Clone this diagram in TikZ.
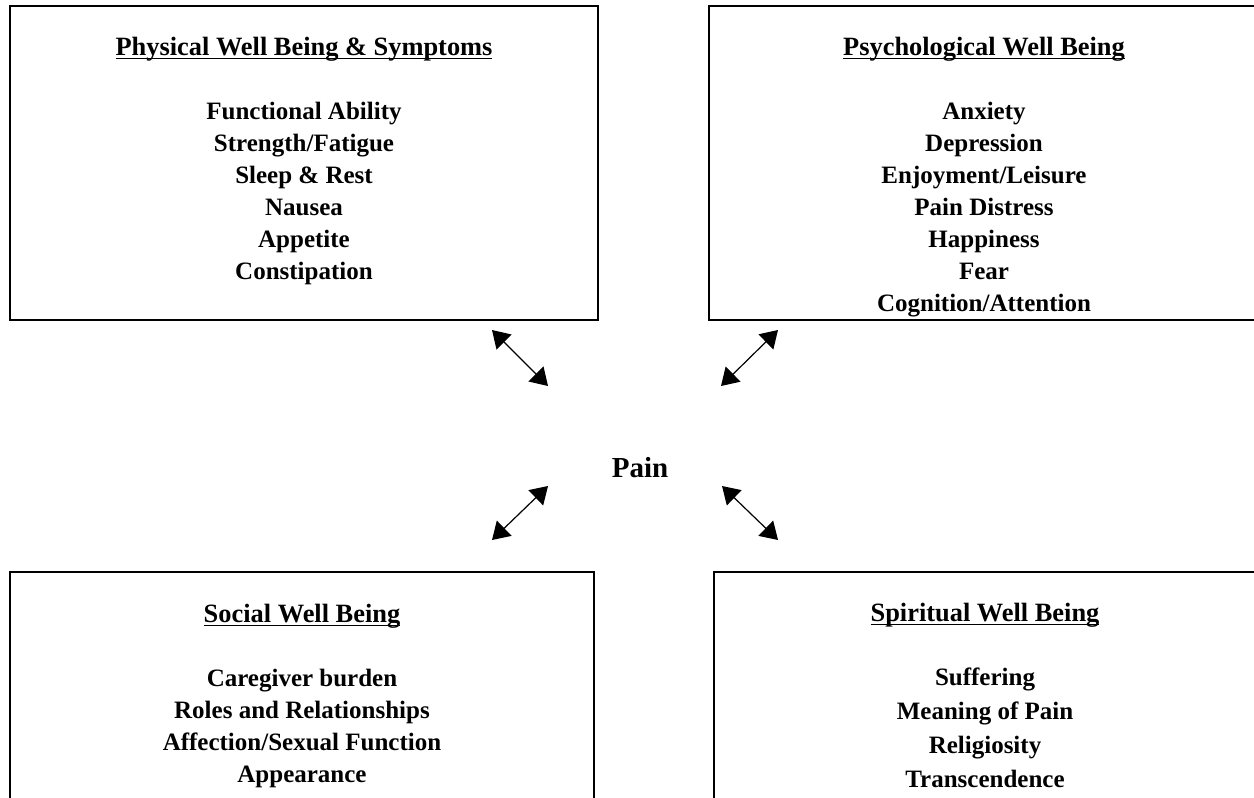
\documentclass[tikz,border=0pt]{standalone}
\usepackage{fontspec}
\setmainfont{Liberation Serif}
\usetikzlibrary{arrows.meta}
\newcommand{\hdLine}[1]{\setbox0\hbox{\fontsize{26.4}{32}\selectfont#1}\rlap{\rule[-4.2pt]{\wd0}{1.4pt}}\box0}
\newcommand{\areaBox}[6][]{
	\path (#2,#3) node[areabox, minimum width=#4pt, minimum height=#5pt, #1](#6){};
}
% y is the baseline of the last line
\newcommand{\areaText}[5][]{
	\path (#2,#3) node[areatext, #1](#4){#5};
}
\newcommand{\link}[3][]{
	\draw[twoway, #1] (#2) -- (#3);
}
\tikzset{
	areabox/.style={draw, line width=1.5pt, inner sep=0pt},
	areatext/.style={anchor=base, align=center, inner sep=0pt, font=\fontsize{25}{32}\selectfont\bfseries},
	twoway/.style={{Triangle[length=17pt,width=21pt]}-{Triangle[length=17pt,width=21pt]}, line width=1.2pt}
}

\begin{document}
\begin{tikzpicture}[x=1pt, y=-1pt]
	\useasboundingbox (0,0) rectangle (1254,798);
	\clip (0,0) rectangle (1254,798);

	\areaBox{304}{163}{588}{314}{phys};
	\areaBox{984.5}{163}{551}{314}{psych};
	\areaBox{302}{696}{584}{248}{social};
	\areaBox{987}{696}{546}{248}{spirit};

	\areaText{304}{279}{physTxt}{\hdLine{Physical Well Being \& Symptoms}\\[32pt]
		Functional Ability\\ Strength/Fatigue\\ Sleep \& Rest\\ Nausea\\ Appetite\\ Constipation};
	\areaText{984}{311}{psychTxt}{\hdLine{Psychological Well Being}\\[32pt]
		Anxiety\\ Depression\\ Enjoyment/Leisure\\ Pain Distress\\ Happiness\\ Fear\\ Cognition/Attention};
	\areaText{302}{782}{socialTxt}{\hdLine{Social Well Being}\\[32pt]
		Caregiver burden\\ Roles and Relationships\\ Affection/Sexual Function\\ Appearance};
	\areaText[font=\fontsize{25}{34}\selectfont\bfseries]{985}{787}{spiritTxt}{\hdLine{Spiritual Well Being}\\[30pt]
		Suffering\\ Meaning of Pain\\ Religiosity\\ Transcendence};

	\areaText[font=\fontsize{29}{34}\selectfont\bfseries]{640}{477}{pain}{Pain};

	% arrow ends
	\coordinate (physEnd) at (492,330);
	\coordinate (physPain) at (548,386);
	\coordinate (psychEnd) at (778,330);
	\coordinate (psychPain) at (721,386);
	\coordinate (socialEnd) at (492,540);
	\coordinate (socialPain) at (548,486);
	\coordinate (spiritEnd) at (778,540);
	\coordinate (spiritPain) at (722,486);

	\link{physEnd}{physPain};
	\link{psychEnd}{psychPain};
	\link{socialEnd}{socialPain};
	\link{spiritEnd}{spiritPain};
\end{tikzpicture}
\end{document}
